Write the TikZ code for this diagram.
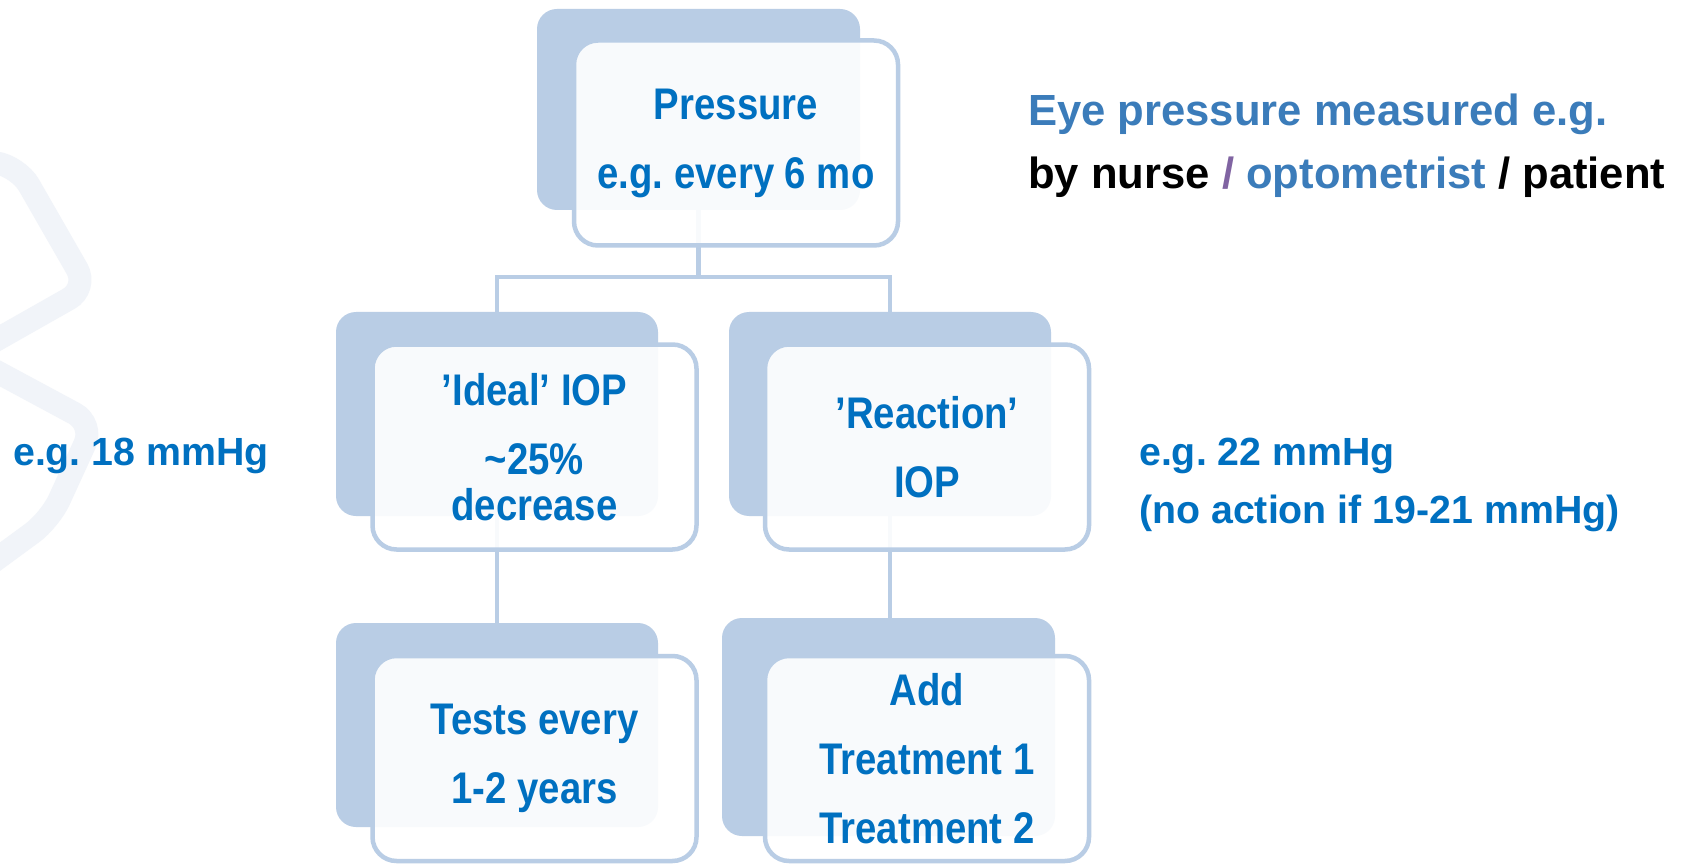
\documentclass[tikz,border=0pt]{standalone}
\usepackage{fontspec}
\setmainfont{Liberation Sans}
\newfontfamily\boxfont{Liberation Sans}[FakeStretch=0.865]
\definecolor{boxblue}{HTML}{B9CDE5}
\definecolor{txtblue}{HTML}{0070C0}
\definecolor{steel}{HTML}{3B7CBA}
\definecolor{slashpurple}{HTML}{8064A2}
\definecolor{decogray}{HTML}{F1F4F9}
\tikzset{
  backbox/.style={fill=boxblue, draw=none, rounded corners=20pt, inner sep=0pt},
  frontbox/.style={draw=boxblue, line width=4.5pt, fill=white, fill opacity=0.9, text opacity=1,
    rounded corners=24pt, inner sep=0pt, minimum width=324pt, minimum height=205pt,
    align=center, text=txtblue, font=\boxfont\fontsize{44.3}{69}\selectfont\bfseries},
  conn/.style={draw=boxblue, line width=4.5pt},
  side/.style={inner sep=0pt, text=txtblue, font=\fontsize{39.3}{58}\selectfont\bfseries},
  note/.style={inner sep=0pt, font=\fontsize{43.6}{63}\selectfont\bfseries},
  deco/.style={draw=decogray, line width=23pt, rounded corners=22pt, line cap=round}
}
\frenchspacing
\begin{document}
\begin{tikzpicture}[x=1pt,y=-1pt]
\useasboundingbox (0,0) rectangle (1685,866);
\fill[white] (0,0) rectangle (1685,866);
\begin{scope}
\clip (0,0) rectangle (1685,866);
\draw[deco] (-25,160) -- (18,166) -- (88,288) -- (-25,352);
\draw[deco] (-25,360) -- (94,424) -- (50,520) -- (-25,575);
\end{scope}
% back boxes
\node[backbox, minimum width=323pt, minimum height=201pt] (b1) at (698.5,109.5) {};
\node[backbox, minimum width=322pt, minimum height=204pt] (b2) at (497,414) {};
\node[backbox, minimum width=322pt, minimum height=204pt] (b3) at (890,414) {};
\node[backbox, minimum width=322pt, minimum height=204pt] (b4) at (497,725) {};
\node[backbox, minimum width=333pt, minimum height=218pt] (b5) at (888.5,727) {};
% connectors
\draw[conn] (b1.south) -- ++(0,67) coordinate (j) -| (b2.north);
\draw[conn] (j) -| (b3.north);
\draw[conn] (b2.south) -- (b4.north);
\draw[conn] (b3.south) -- (b3.south |- b5.north);
% front boxes
\node[frontbox] (f1) at (736,143) {Pressure\\e.g. every 6 mo};
\node[frontbox] (f2) at (534.5,447) {’Ideal’ IOP\\\textasciitilde25\%\\[-23pt]decrease};
\node[frontbox] (f3) at (927,447) {’Reaction’\\IOP};
\node[frontbox] (f4) at (534.5,758.5) {Tests every\\1-2 years};
\node[frontbox] (f5) at (927,758.5) {Add\\Treatment 1\\Treatment 2};
% side labels
\node[side, anchor=base west] (l18) at (13,465) {e.g. 18 mmHg};
\node[side, anchor=base west] (l22) at (1139,465) {e.g. 22 mmHg};
\node[side, anchor=base west] (lno) at (1139,523) {(no action if 19-21 mmHg)};
\node[note, anchor=base west, text=steel] (eye) at (1028,126) {Eye pressure measured e.g.};
\node[note, anchor=base west] (by) at (1028,189) {by nurse \textcolor{slashpurple}{/} \textcolor{steel}{optometrist} / patient};
\end{tikzpicture}
\end{document}
